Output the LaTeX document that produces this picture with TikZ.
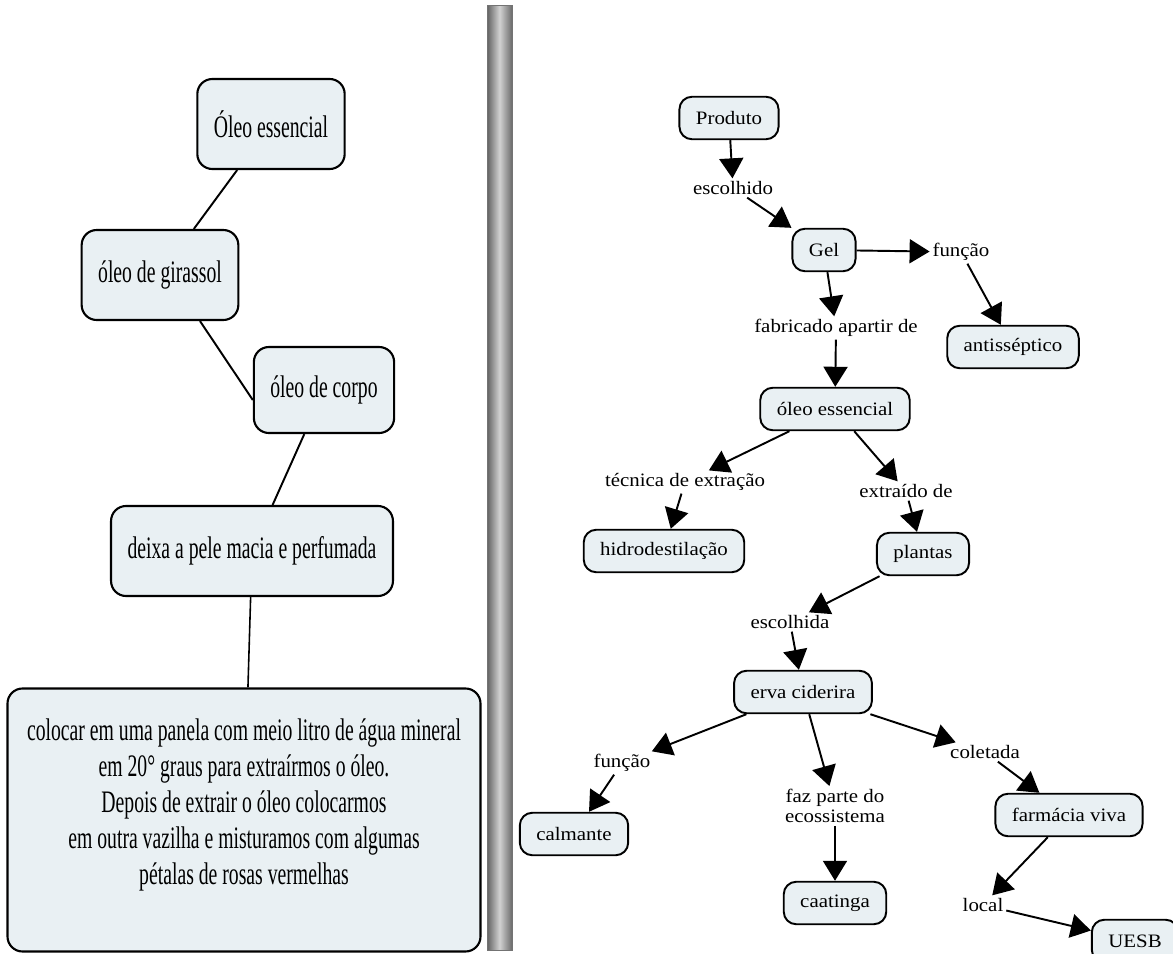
\documentclass[tikz,border=0pt]{standalone}
\usepackage{fontspec}
\setmainfont{Liberation Serif}
\newfontfamily\leftfont[FakeStretch=0.63]{Liberation Serif}
\newfontfamily\rightfont[FakeStretch=1.1]{Liberation Serif}
\usepackage{tikz}
\usetikzlibrary{arrows.meta}
\definecolor{boxfill}{HTML}{E9F0F3}
\tikzset{
  lbox/.style={draw,line width=1.2pt,rounded corners=0.3cm,fill=boxfill,
    inner xsep=0.33cm,minimum height=1.8cm,
    font=\leftfont\fontsize{17.8}{20.5}\selectfont},
  rbox/.style={draw,line width=1.1pt,rounded corners=0.25cm,fill=boxfill,
    inner xsep=0.33cm,minimum height=0.85cm,
    font=\rightfont\fontsize{10.8}{11.6}\selectfont},
  lab/.style={inner sep=1.5pt,font=\rightfont\fontsize{10.8}{11.6}\selectfont},
  link/.style={-{Triangle[length=0.4cm,width=0.48cm]},line width=1.1pt},
}
\begin{document}
\begin{tikzpicture}
      \useasboundingbox (0,0) rectangle (23.46,-19.08);

      \shade[left color=black!62,right color=black!58,middle color=black!18]
      (9.74,-0.10) rectangle (10.24,-19.00);
      \draw[black!55,line width=0.4pt] (9.74,-0.10) rectangle (10.24,-19.00);

      \node[lbox] (ess) at (5.42,-2.48) {Óleo essencial};
      \node[lbox] (gir) at (3.20,-5.50) {óleo de girassol};
      \node[lbox,minimum height=1.72cm] (cor) at (6.48,-7.80) {óleo de corpo};
      \node[lbox] (dei) at (5.04,-11.02) {deixa a pele macia e perfumada};
      \node[lbox,minimum width=9.46cm,minimum height=5.26cm,align=center] (big)
      at (4.88,-16.40) {colocar em uma panela com meio litro de água mineral\\
        em 20° graus para extraírmos o óleo.\\
        Depois de extrair o óleo colocarmos\\
        em outra vazilha e misturamos com algumas\\
        pétalas de rosas vermelhas\\[0pt]\mbox{}};

      \draw[line width=1.1pt] (ess) -- (gir);
      \draw[line width=1.1pt] ([xshift=0.8cm]gir.south) -- ([yshift=-0.2cm]cor.west);
      \draw[line width=1.1pt] (cor) -- (dei);
      \draw[line width=0.9pt] (dei) -- (big);

      \node[rbox] (prod) at (14.58,-2.36) {Produto};
      \node[lab] (esc1) at (14.66,-3.76) {escolhido};
      \node[rbox] (gel) at (16.48,-5.00) {Gel};
      \node[lab] (fun1) at (19.22,-5.04) {função};
      \node[rbox] (anti) at (20.26,-6.94) {antisséptico};
      \node[lab] (fab) at (16.72,-6.56) {fabricado apartir de};
      \node[rbox] (oleo) at (16.70,-8.18) {óleo essencial};
      \node[lab] (tec) at (13.70,-9.64) {técnica de extração};
      \node[rbox] (hid) at (13.28,-11.02) {hidrodestilação};
      \node[lab] (ext) at (18.12,-9.82) {extraído de};
      \node[rbox] (pla) at (18.46,-11.08) {plantas};
      \node[lab] (esc2) at (15.80,-12.44) {escolhida};
      \node[rbox] (erva) at (16.06,-13.84) {erva ciderira};
      \node[lab] (fun2) at (12.44,-15.26) {função};
      \node[rbox] (calm) at (11.48,-16.68) {calmante};
      \node[lab,align=center] (faz) at (16.70,-16.12) {faz parte do\\ecossistema};
      \node[rbox] (caat) at (16.70,-18.06) {caatinga};
      \node[lab] (col) at (19.70,-15.04) {coletada};
      \node[rbox] (farm) at (21.38,-16.30) {farmácia viva};
      \node[lab] (loc) at (19.66,-18.10) {local};
      \node[rbox] (uesb) at (22.70,-18.82) {UESB};

      \path[link] (prod) edge (esc1);
      \path[link] (esc1) edge (gel);
      \path[link] (gel) edge (fun1);
      \path[link] (fun1) edge (anti);
      \path[link] (gel) edge (fab);
      \path[link] (fab) edge (oleo);
      \path[link] (oleo) edge (tec);
      \path[link] (tec) edge (hid);
      \path[link] (oleo) edge (ext);
      \path[link] (ext) edge (pla);
      \path[link] (pla) edge (esc2);
      \path[link] (esc2) edge (erva);
      \path[link] (erva) edge (fun2);
      \path[link] (fun2) edge (calm);
      \path[link] (erva) edge (faz);
      \path[link] (faz) edge (caat);
      \path[link] (erva) edge (col);
      \path[link] (col) edge (farm);
      \path[link] (farm) edge (loc);
      \path[link] (loc) edge (uesb);
    \end{tikzpicture}
\end{document}
